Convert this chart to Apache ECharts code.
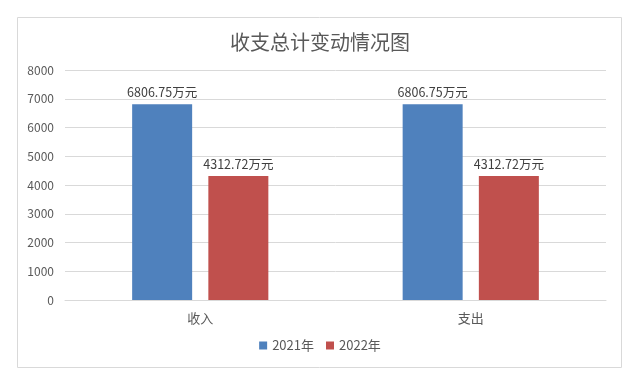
<!DOCTYPE html>
<html><head><meta charset="utf-8">
<script src="https://cdn.jsdelivr.net/npm/echarts@6/dist/echarts.min.js"></script>
<style>html,body{margin:0;padding:0;background:#fff}#c{width:640px;height:383px}</style>
</head><body><div id="c"></div>
<script>
const categories = ['收入', '支出'];
const series2021 = [6806.75, 6806.75];
const series2022 = [4312.72, 4312.72];
const seriesNames = ['2021年', '2022年'];
const yTicks = [0, 1000, 2000, 3000, 4000, 5000, 6000, 7000, 8000];

const chart = echarts.init(document.getElementById('c'));
const font = '"Microsoft YaHei","Noto Sans CJK SC",sans-serif';
const lbl = {
  show: true, position: 'top', distance: 6,
  formatter: p => p.value + '万元',
  color: '#404040', fontSize: 12.5, fontFamily: font
};
chart.setOption({
  animation: false,
  graphic: [{
    type: 'rect', shape: {x: 17.5, y: 17.5, width: 604, height: 350},
    style: {fill: 'none', stroke: '#d9d9d9', lineWidth: 1}, silent: true, z: -1
  }],
  title: {
    text: '收支总计变动情况图', left: 'center', top: 27,
    textStyle: {color: '#595959', fontSize: 20, fontWeight: 'normal', fontFamily: font}
  },
  legend: {
    data: seriesNames, bottom: 26, left: 'center',
    itemWidth: 8, itemHeight: 8, itemGap: 12, icon: 'rect',
    textStyle: {color: '#595959', fontSize: 13, fontFamily: font}
  },
  grid: {left: 65, right: 34, top: 70, bottom: 83},
  xAxis: {
    type: 'category', data: categories,
    axisLine: {lineStyle: {color: '#d9d9d9'}}, axisTick: {show: false},
    axisLabel: {color: '#595959', fontSize: 13, margin: 12, fontFamily: font}
  },
  yAxis: {
    type: 'value', min: yTicks[0], max: yTicks[yTicks.length - 1], interval: 1000,
    axisLine: {show: false}, axisTick: {show: false},
    axisLabel: {color: '#595959', fontSize: 12, margin: 11, fontFamily: font,
                formatter: v => String(v)},
    splitLine: {lineStyle: {color: '#d9d9d9'}}
  },
  series: [
    {name: seriesNames[0], type: 'bar', data: series2021, barWidth: 60, barGap: '27%',
     itemStyle: {color: '#4f81bd'}, label: lbl},
    {name: seriesNames[1], type: 'bar', data: series2022, barWidth: 60,
     itemStyle: {color: '#c0504d'}, label: lbl}
  ]
});
</script></body></html>
